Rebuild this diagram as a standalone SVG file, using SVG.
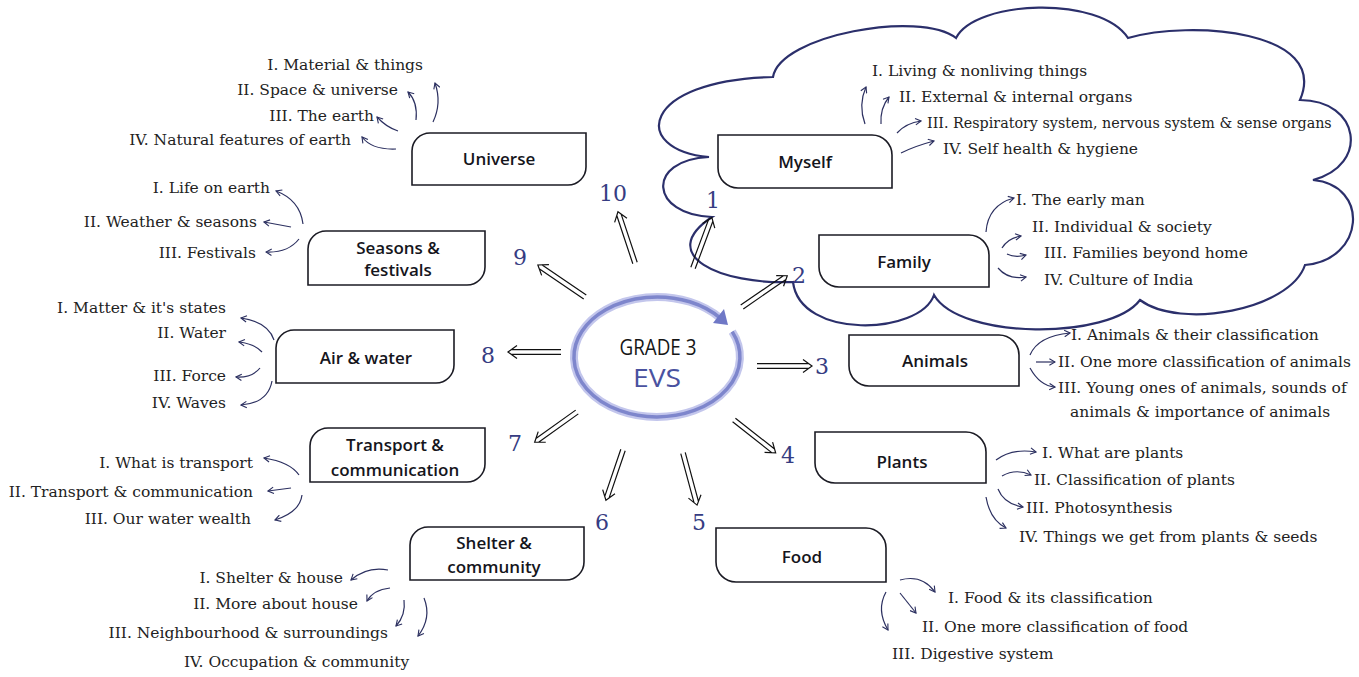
<svg xmlns="http://www.w3.org/2000/svg" width="1359" height="677" viewBox="0 0 1359 677">
<defs>
<style>
.box{fill:#fff;stroke:#1b1b24;stroke-width:1.6}
.lbl{font-family:"Open Sans","Noto Sans",sans-serif;font-size:17px;font-weight:600;fill:#15151c;text-anchor:middle}
.it{font-family:"DejaVu Serif","Liberation Serif",serif;font-size:15.5px;fill:#222}
.r{text-anchor:end}
.num{font-family:"DejaVu Serif","Liberation Serif",serif;font-size:22px;fill:#363c82;text-anchor:middle}
.sa{fill:none;stroke:#2c3060;stroke-width:1.2;marker-end:url(#ch)}
.da{fill:none;stroke:#111;stroke-width:1.2}
.cloud{fill:none;stroke:#2b2f6b;stroke-width:2.2}
</style>
<marker id="ch" viewBox="0 0 10 10" refX="9" refY="5" markerWidth="8" markerHeight="8" markerUnits="userSpaceOnUse" orient="auto">
<path d="M2,1 L9,5 L2,9" fill="none" stroke="#2c3060" stroke-width="1.4"/>
</marker>
</defs>
<rect width="1359" height="677" fill="#fff"/>

<g id="cloud">
<path class="cloud" d="M709,157 C630,150 640,80 773,77 C780,35 920,10 956,38 C975,0 1100,-5 1128,38 C1190,20 1330,30 1300,100 C1360,100 1370,165 1313,180 C1370,185 1365,260 1305,265 C1290,310 1180,330 1140,300 C1110,340 960,340 934,295 C920,335 800,340 793,282 C720,285 655,255 712,217 C650,215 645,160 709,157 Z"/>
</g>

<g id="center">
<path d="M732.2,331.6 A83 60 0 1 1 720.6,318.4" fill="none" stroke="#c3c6ec" stroke-width="8"/>
<path d="M732.2,331.6 A83 60 0 1 1 720.6,318.4" fill="none" stroke="#7e86cc" stroke-width="3.5"/>
<path d="M728,325 L713,323 L724,309 Z" fill="#6f78c6"/>
<text x="658" y="355" font-family="Open Sans, sans-serif" font-size="21" fill="#161616" text-anchor="middle" textLength="77" lengthAdjust="spacingAndGlyphs">GRADE 3</text>
<text x="657" y="387" font-family="Open Sans, sans-serif" font-size="26" fill="#4a52a0" text-anchor="middle" textLength="48" lengthAdjust="spacingAndGlyphs">EVS</text>
</g>

<g id="connectors">
<g class="da">
<path transform="translate(693,268) rotate(-69.6)" d="M0,-2.3 H50.8 M0,2.3 H50.8 M45,-6.5 L54,0 L45,6.5"/>
<path transform="translate(742,307) rotate(-34.6)" d="M0,-2.3 H51.8 M0,2.3 H51.8 M46,-6.5 L55,0 L46,6.5"/>
<path transform="translate(757,366)" d="M0,-2.3 H51.8 M0,2.3 H51.8 M46,-6.5 L55,0 L46,6.5"/>
<path transform="translate(734,420) rotate(38.2)" d="M0,-2.3 H49.8 M0,2.3 H49.8 M44,-6.5 L53,0 L44,6.5"/>
<path transform="translate(683,453) rotate(74.9)" d="M0,-2.3 H50.8 M0,2.3 H50.8 M45,-6.5 L54,0 L45,6.5"/>
<path transform="translate(623,450) rotate(108.8)" d="M0,-2.3 H49.8 M0,2.3 H49.8 M44,-6.5 L53,0 L44,6.5"/>
<path transform="translate(577,412) rotate(144.5)" d="M0,-2.3 H48.8 M0,2.3 H48.8 M43,-6.5 L52,0 L43,6.5"/>
<path transform="translate(561,352) rotate(180)" d="M0,-2.3 H49.8 M0,2.3 H49.8 M44,-6.5 L53,0 L44,6.5"/>
<path transform="translate(585,297) rotate(-145.8)" d="M0,-2.3 H53.8 M0,2.3 H53.8 M48,-6.5 L57,0 L48,6.5"/>
<path transform="translate(635,263) rotate(-108.4)" d="M0,-2.3 H50.8 M0,2.3 H50.8 M45,-6.5 L54,0 L45,6.5"/>
</g>
<!-- Universe -->
<path class="sa" d="M433,122 Q442,103 435,83"/>
<path class="sa" d="M416,120 Q418,102 408,92"/>
<path class="sa" d="M398,131 Q386,127 377,117"/>
<path class="sa" d="M396,149 Q372,150 362,137"/>
<!-- Seasons -->
<path class="sa" d="M303,224 Q300,200 276,191"/>
<path class="sa" d="M291,227 L264,222"/>
<path class="sa" d="M299,239 Q288,253 266,252"/>
<!-- Air & water -->
<path class="sa" d="M274,340 Q268,322 241,318"/>
<path class="sa" d="M262,352 Q255,344 239,342"/>
<path class="sa" d="M260,368 Q252,378 236,377"/>
<path class="sa" d="M272,381 Q268,403 241,405"/>
<!-- Transport -->
<path class="sa" d="M299,475 Q290,462 264,458"/>
<path class="sa" d="M291,488 L268,491"/>
<path class="sa" d="M302,495 Q300,512 275,520"/>
<!-- Shelter -->
<path class="sa" d="M388,570 Q367,566 351,580"/>
<path class="sa" d="M390,588 Q373,590 367,601"/>
<path class="sa" d="M404,600 Q406,615 396,626"/>
<path class="sa" d="M424,598 Q432,618 418,636"/>
<!-- Myself -->
<path class="sa" d="M865,124 Q858,105 866,87"/>
<path class="sa" d="M881,124 Q880,108 889,97"/>
<path class="sa" d="M897,133 Q906,123 921,121"/>
<path class="sa" d="M901,153 Q915,146 934,141"/>
<!-- Family -->
<path class="sa" d="M986,232 Q988,205 1014,198"/>
<path class="sa" d="M1002,248 Q1008,238 1021,236"/>
<path class="sa" d="M1007,254 Q1015,258 1026,255"/>
<path class="sa" d="M998,268 Q1008,280 1026,277"/>
<!-- Animals -->
<path class="sa" d="M1030,355 Q1038,336 1070,333"/>
<path class="sa" d="M1036,362 L1055,362"/>
<path class="sa" d="M1030,368 Q1040,386 1055,387"/>
<!-- Plants -->
<path class="sa" d="M996,460 Q1012,448 1036,452"/>
<path class="sa" d="M1002,476 Q1016,468 1031,475"/>
<path class="sa" d="M998,489 Q1004,504 1023,507"/>
<path class="sa" d="M986,497 Q990,520 1006,528"/>
<!-- Food -->
<path class="sa" d="M900,580 Q922,574 935,592"/>
<path class="sa" d="M900,593 L916,613"/>
<path class="sa" d="M886,592 Q876,610 888,630"/>
</g>

<g id="numbers">
<text class="num" x="713" y="208">1</text>
<text class="num" x="799" y="283">2</text>
<text class="num" x="822" y="374">3</text>
<text class="num" x="788" y="463">4</text>
<text class="num" x="699" y="530">5</text>
<text class="num" x="602" y="530">6</text>
<text class="num" x="515" y="451">7</text>
<text class="num" x="488" y="363">8</text>
<text class="num" x="520" y="265">9</text>
<text class="num" x="613" y="201">10</text>
</g>

<g id="node-myself">
<path class="box" d="M718,135 H872 A20 20 0 0 1 892,155 V188 H738 A20 20 0 0 1 718,168 Z"/>
<text class="lbl" x="805" y="168">Myself</text>
<text class="it" x="872" y="76">I. Living &amp; nonliving things</text>
<text class="it" x="899" y="102">II. External &amp; internal organs</text>
<text class="it" x="927" y="128" style="font-size:14.3px">III. Respiratory system, nervous system &amp; sense organs</text>
<text class="it" x="943" y="154">IV. Self health &amp; hygiene</text>
</g>

<g id="node-family">
<path class="box" d="M819,235 H969 A20 20 0 0 1 989,255 V287 H839 A20 20 0 0 1 819,267 Z"/>
<text class="lbl" x="904" y="268">Family</text>
<text class="it" x="1016" y="205">I. The early man</text>
<text class="it" x="1032" y="232">II. Individual &amp; society</text>
<text class="it" x="1044" y="258">III. Families beyond home</text>
<text class="it" x="1044" y="285">IV. Culture of India</text>
</g>

<g id="node-animals">
<path class="box" d="M849,335 H999 A20 20 0 0 1 1019,355 V386 H869 A20 20 0 0 1 849,366 Z"/>
<text class="lbl" x="935" y="367">Animals</text>
<text class="it" x="1071" y="340">I. Animals &amp; their classification</text>
<text class="it" x="1058" y="367">II. One more classification of animals</text>
<text class="it" x="1058" y="393">III. Young ones of animals, sounds of</text>
<text class="it" x="1070" y="417">animals &amp; importance of animals</text>
</g>

<g id="node-plants">
<path class="box" d="M815,432 H966 A20 20 0 0 1 986,452 V483 H835 A20 20 0 0 1 815,463 Z"/>
<text class="lbl" x="902" y="468">Plants</text>
<text class="it" x="1042" y="458">I. What are plants</text>
<text class="it" x="1034" y="485">II. Classification of plants</text>
<text class="it" x="1026" y="513">III. Photosynthesis</text>
<text class="it" x="1019" y="542">IV. Things we get from plants &amp; seeds</text>
</g>

<g id="node-food">
<path class="box" d="M716,528 H866 A20 20 0 0 1 886,548 V582 H736 A20 20 0 0 1 716,562 Z"/>
<text class="lbl" x="802" y="563">Food</text>
<text class="it" x="948" y="603">I. Food &amp; its classification</text>
<text class="it" x="922" y="632">II. One more classification of food</text>
<text class="it" x="892" y="659">III. Digestive system</text>
</g>

<g id="node-shelter">
<path class="box" d="M428,527 H584 V562 A18 18 0 0 1 566,580 H410 V545 A18 18 0 0 1 428,527 Z"/>
<text class="lbl" x="494" y="549">Shelter &amp;</text>
<text class="lbl" x="494" y="573">community</text>
<text class="it r" x="343" y="583">I. Shelter &amp; house</text>
<text class="it r" x="358" y="609">II. More about house</text>
<text class="it r" x="388" y="638">III. Neighbourhood &amp; surroundings</text>
<text class="it" x="184" y="667">IV. Occupation &amp; community</text>
</g>

<g id="node-transport">
<path class="box" d="M328,428 H485 V464 A18 18 0 0 1 467,482 H310 V446 A18 18 0 0 1 328,428 Z"/>
<text class="lbl" x="395" y="451">Transport &amp;</text>
<text class="lbl" x="395" y="476">communication</text>
<text class="it r" x="253" y="468">I. What is transport</text>
<text class="it r" x="253" y="497">II. Transport &amp; communication</text>
<text class="it r" x="251" y="524">III. Our water wealth</text>
</g>

<g id="node-air-water">
<path class="box" d="M294,330 H454 V365 A18 18 0 0 1 436,383 H276 V348 A18 18 0 0 1 294,330 Z"/>
<text class="lbl" x="366" y="364">Air &amp; water</text>
<text class="it r" x="226" y="313">I. Matter &amp; it's states</text>
<text class="it r" x="226" y="338">II. Water</text>
<text class="it r" x="226" y="381">III. Force</text>
<text class="it r" x="226" y="408">IV. Waves</text>
</g>

<g id="node-seasons">
<path class="box" d="M326,231 H485 V267 A18 18 0 0 1 467,285 H308 V249 A18 18 0 0 1 326,231 Z"/>
<text class="lbl" x="398" y="254">Seasons &amp;</text>
<text class="lbl" x="398" y="276">festivals</text>
<text class="it r" x="270" y="193">I. Life on earth</text>
<text class="it r" x="257" y="227">II. Weather &amp; seasons</text>
<text class="it r" x="256" y="258">III. Festivals</text>
</g>

<g id="node-universe">
<path class="box" d="M430,133 H586 V167 A18 18 0 0 1 568,185 H412 V151 A18 18 0 0 1 430,133 Z"/>
<text class="lbl" x="499" y="165">Universe</text>
<text class="it r" x="423" y="70">I. Material &amp; things</text>
<text class="it r" x="398" y="95">II. Space &amp; universe</text>
<text class="it r" x="374" y="121">III. The earth</text>
<text class="it r" x="351" y="145">IV. Natural features of earth</text>
</g>
</svg>
